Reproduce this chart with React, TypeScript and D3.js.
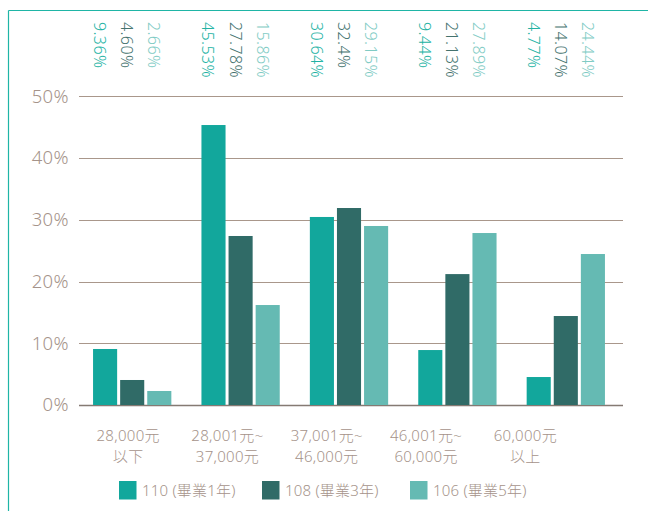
import React from 'react';
import * as d3 from 'd3';

const categories: string[][] = [
  ['28,000元', '以下'],
  ['28,001元~', '37,000元'],
  ['37,001元~', '46,000元'],
  ['46,001元~', '60,000元'],
  ['60,000元', '以上'],
];
const seriesNames = ['110 (畢業1年)', '108 (畢業3年)', '106 (畢業5年)'];
const s110 = [9.07, 45.34, 30.45, 8.9, 4.53];
const s108 = [4.05, 27.37, 31.9, 21.2, 14.41];
const s106 = [2.27, 16.19, 28.99, 27.85, 24.45];
const l110 = ['9.36%', '45.53%', '30.64%', '9.44%', '4.77%'];
const l108 = ['4.60%', '27.78%', '32.4%', '21.13%', '14.07%'];
const l106 = ['2.66%', '15.86%', '29.15%', '27.89%', '24.44%'];
const yTicks = [0, 10, 20, 30, 40, 50];

const barColors = ['#12a79c', '#306b67', '#65bab3'];
const labelColors = ['#22b2a3', '#44726e', '#80cbc4'];
const textColor = '#a5938a';
const FONT = '"Noto Sans", "Noto Sans CJK TC", sans-serif';

export default function App() {
  const W = 648, H = 511;
  const series = [s110, s108, s106];
  const labels = [l110, l108, l106];
  const idx = categories.map((_, i) => i);

  const y = d3.scaleLinear().domain([0, 50]).range([405, 96.25]);
  const x0 = d3.scaleBand<number>().domain(idx).range([79, 619]).paddingInner(0.2778).paddingOuter(0.1296);
  const x1 = d3.scaleBand<number>().domain([0, 1, 2]).range([0, x0.bandwidth()]).paddingInner(0.111);
  const xl = d3.scaleBand<number>().domain(idx).range([78.5, 575]);

  const legendX = [119, 262, 410];

  return (
    <svg width={W} height={H} style={{ position: 'fixed', left: 0, top: 0, fontFamily: FONT, fontWeight: 300 }}>
      <rect x={0} y={0} width={W} height={H} fill="#fff" />
      {/* card border */}
      <line x1={8.5} x2={W} y1={10.5} y2={10.5} stroke="#1fb5a6" strokeWidth={1.2} />
      <line x1={8.5} x2={8.5} y1={10.5} y2={H} stroke="#1fb5a6" strokeWidth={1.2} />

      {/* gridlines */}
      {yTicks.map((t) => (
        <g key={t}>
          <line x1={79} x2={623} y1={Math.round(y(t)) + 0.5} y2={Math.round(y(t)) + 0.5}
            stroke={t === 0 ? '#857a73' : '#a9978b'} strokeWidth={t === 0 ? 1.6 : 1.1} />
          <text x={69} y={y(t)} dy="0.35em" textAnchor="end" fontSize={18.5} fill={textColor}
            letterSpacing={0.4}>{t}%</text>
        </g>
      ))}

      {/* bars */}
      {idx.map((i) => (
        <g key={i} transform={`translate(${x0(i)},0)`}>
          {series.map((s, j) => (
            <rect key={j} x={x1(j)} y={y(s[i])} width={x1.bandwidth()} height={y(0) - y(s[i])}
              fill={barColors[j]} />
          ))}
        </g>
      ))}

      {/* value labels (rotated) */}
      {idx.map((i) => (
        <g key={i}>
          {labels.map((l, j) => (
            <text key={j} transform={`translate(${(x0(i) ?? 0) + (x1(j) ?? 0) + 1},22) rotate(90)`}
              fontSize={16} fill={labelColors[j]} letterSpacing={0.4}>{l[i]}</text>
          ))}
        </g>
      ))}

      {/* category labels */}
      {idx.map((i) => (
        <text key={i} x={(xl(i) ?? 0) + xl.bandwidth() / 2} y={441} textAnchor="middle" fontSize={15}
          fill={textColor} letterSpacing={0.3}>
          <tspan x={(xl(i) ?? 0) + xl.bandwidth() / 2}>{categories[i][0]}</tspan>
          <tspan x={(xl(i) ?? 0) + xl.bandwidth() / 2} dy={21}>{categories[i][1]}</tspan>
        </text>
      ))}

      {/* legend */}
      {seriesNames.map((n, j) => (
        <g key={n} transform={`translate(${legendX[j]},481)`}>
          <rect x={0} y={0} width={17.5} height={18.5} fill={barColors[j]} />
          <text x={23} y={9.5} dy="0.35em" fontSize={15} fill={textColor} letterSpacing={0.2}>{n}</text>
        </g>
      ))}
    </svg>
  );
}
